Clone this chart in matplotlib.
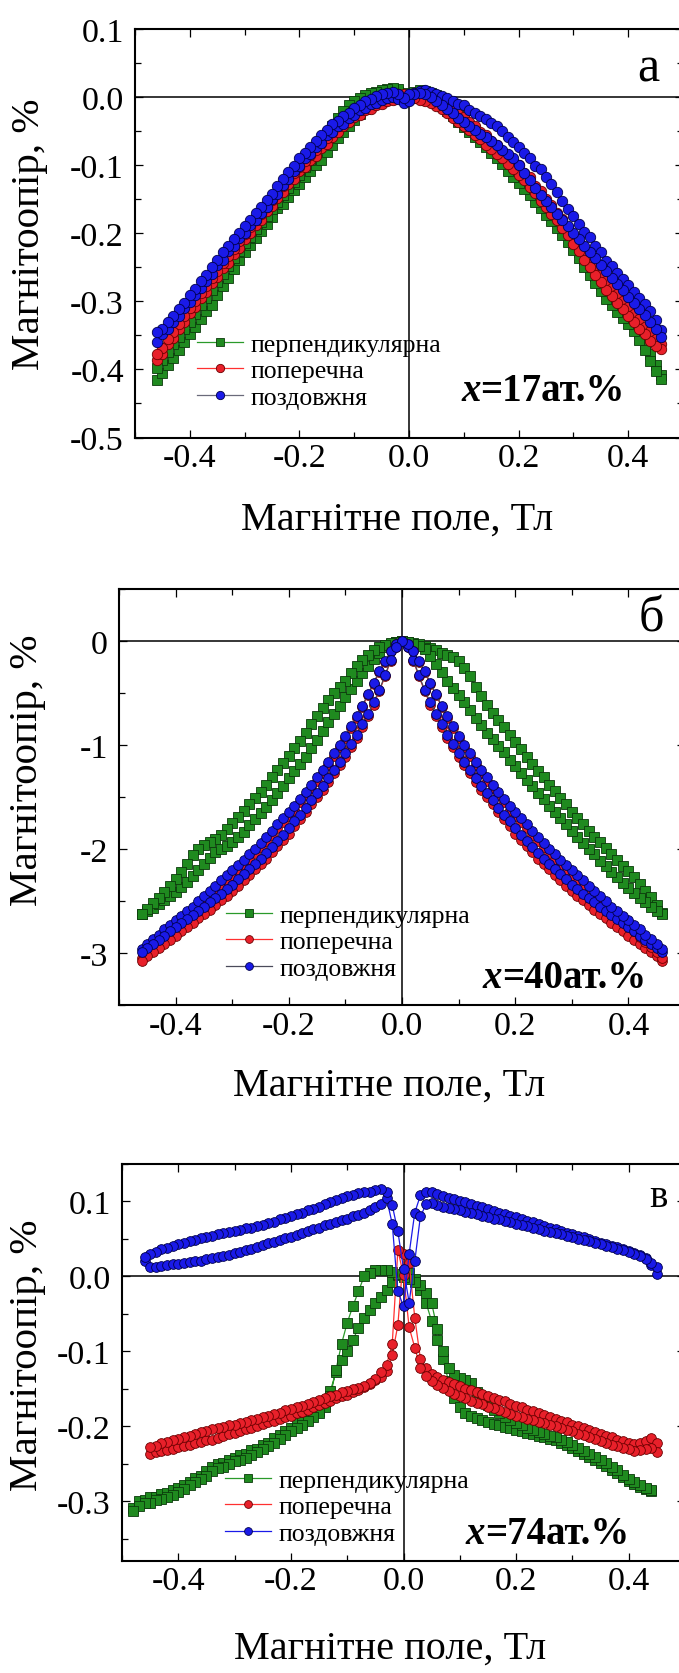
import matplotlib
matplotlib.use("Agg")
import matplotlib.pyplot as plt
from matplotlib.ticker import MultipleLocator, FormatStrFormatter

plt.rcParams['font.family'] = ['Liberation Serif', 'DejaVu Serif']
plt.rcParams['axes.unicode_minus'] = False

# ---------------- field grid (T) ----------------
HG = [-0.48, -0.47, -0.46, -0.45, -0.44, -0.43, -0.42, -0.41, -0.40, -0.39,
      -0.38, -0.37, -0.36, -0.35, -0.34, -0.33, -0.32, -0.31, -0.30, -0.29,
      -0.28, -0.27, -0.26, -0.25, -0.24, -0.23, -0.22, -0.21, -0.20, -0.19,
      -0.18, -0.17, -0.16, -0.15, -0.14, -0.13, -0.12, -0.11, -0.10, -0.09,
      -0.08, -0.07, -0.06, -0.05, -0.04, -0.03, -0.02, -0.01, 0.00, 0.01,
      0.02, 0.03, 0.04, 0.05, 0.06, 0.07, 0.08, 0.09, 0.10, 0.11,
      0.12, 0.13, 0.14, 0.15, 0.16, 0.17, 0.18, 0.19, 0.20, 0.21,
      0.22, 0.23, 0.24, 0.25, 0.26, 0.27, 0.28, 0.29, 0.30, 0.31,
      0.32, 0.33, 0.34, 0.35, 0.36, 0.37, 0.38, 0.39, 0.40, 0.41,
      0.42, 0.43, 0.44, 0.45, 0.46]

FIELD_A = HG[2:95]          # -0.46 .. 0.46
FIELD_B = HG[2:95]          # -0.46 .. 0.46
FIELD_C_GREEN = HG[0:93]    # -0.48 .. 0.44
FIELD_C_RED = HG[3:94]      # -0.45 .. 0.45
FIELD_C_BLUE = HG[2:94]     # -0.46 .. 0.45

LABELS = ['перпендикулярна', 'поперечна', 'поздовжня']
XLABEL = 'Магнітне поле, Тл'
YLABEL = 'Магнітоопір, %'
PANEL_TAGS = ['а', 'б', 'в']
COMPOSITIONS = ['=17ат.%', '=40ат.%', '=74ат.%']

# ---------------- panel a (x = 17 at.%) ----------------
A_GREEN_UP = ([-0.416, -0.405, -0.394, -0.383, -0.371, -0.360, -0.348, -0.337, -0.326, -0.314,
               -0.305, -0.290, -0.277, -0.265, -0.252, -0.240, -0.228, -0.217, -0.207, -0.196,
               -0.186, -0.176, -0.163, -0.157, -0.147, -0.137, -0.127, -0.118, -0.109, -0.100,
               -0.093, -0.080, -0.070, -0.060, -0.051, -0.042, -0.033, -0.025, -0.017, -0.010,
               -0.004, 0.001, 0.006, 0.010, 0.008, 0.004]
              + [0.002]
              + [0.008, 0.010, 0.009, 0.006, 0.003, -0.003, -0.010, -0.018, -0.026, -0.034,
                 -0.042, -0.049, -0.056, -0.064, -0.072, -0.080, -0.089, -0.098, -0.107, -0.116,
                 -0.125, -0.134, -0.144, -0.153, -0.163, -0.172, -0.182, -0.192, -0.203, -0.215,
                 -0.227, -0.239, -0.251, -0.263, -0.275, -0.287, -0.296, -0.305, -0.314, -0.323,
                 -0.334, -0.347, -0.362, -0.378, -0.394, -0.408])
A_GREEN_DN = ([-0.398, -0.386, -0.375, -0.363, -0.352, -0.341, -0.330, -0.318, -0.306, -0.295,
               -0.283, -0.271, -0.260, -0.248, -0.237, -0.226, -0.215, -0.205, -0.194, -0.184,
               -0.174, -0.164, -0.154, -0.144, -0.134, -0.124, -0.114, -0.103, -0.092, -0.080,
               -0.068, -0.056, -0.043, -0.031, -0.020, -0.012, -0.006, -0.001, 0.003, 0.006,
               0.008, 0.010, 0.012, 0.014, 0.012, 0.006]
              + [0.004]
              + [-0.001, 0.000, -0.001, -0.003, -0.007, -0.013, -0.020, -0.028, -0.036, -0.044,
                 -0.052, -0.059, -0.066, -0.074, -0.082, -0.090, -0.099, -0.108, -0.117, -0.126,
                 -0.135, -0.144, -0.154, -0.163, -0.173, -0.182, -0.192, -0.202, -0.213, -0.225,
                 -0.237, -0.249, -0.261, -0.273, -0.285, -0.297, -0.306, -0.315, -0.324, -0.333,
                 -0.344, -0.357, -0.372, -0.388, -0.403, -0.414])
A_RED_UP = ([-0.386, -0.377, -0.363, -0.354, -0.341, -0.331, -0.317, -0.308, -0.295, -0.286,
             -0.273, -0.264, -0.251, -0.243, -0.230, -0.221, -0.208, -0.200, -0.188, -0.180,
             -0.168, -0.160, -0.148, -0.140, -0.128, -0.120, -0.109, -0.103, -0.092, -0.086,
             -0.075, -0.069, -0.058, -0.052, -0.042, -0.037, -0.029, -0.026, -0.019, -0.017,
             -0.012, -0.010, -0.006, -0.004, -0.002, -0.001]
            + [0.000]
            + [0.006, 0.008, 0.005, 0.004, -0.002, -0.005, -0.013, -0.017, -0.025, -0.029,
               -0.037, -0.042, -0.051, -0.056, -0.065, -0.070, -0.079, -0.085, -0.094, -0.100,
               -0.111, -0.118, -0.130, -0.138, -0.150, -0.158, -0.170, -0.179, -0.192, -0.202,
               -0.215, -0.225, -0.238, -0.247, -0.260, -0.270, -0.281, -0.289, -0.300, -0.308,
               -0.319, -0.326, -0.337, -0.344, -0.355, -0.362])
A_RED_DN = ([-0.378, -0.368, -0.356, -0.345, -0.333, -0.322, -0.310, -0.299, -0.288, -0.277,
             -0.266, -0.255, -0.244, -0.234, -0.223, -0.212, -0.201, -0.191, -0.181, -0.171,
             -0.161, -0.151, -0.141, -0.131, -0.121, -0.111, -0.102, -0.094, -0.085, -0.077,
             -0.068, -0.060, -0.051, -0.043, -0.035, -0.028, -0.022, -0.017, -0.012, -0.008,
             -0.005, -0.002, 0.001, 0.003, 0.004, 0.004]
            + [0.002]
            + [-0.002, -0.004, -0.006, -0.009, -0.013, -0.018, -0.024, -0.031, -0.036, -0.043,
               -0.048, -0.056, -0.062, -0.070, -0.076, -0.084, -0.090, -0.099, -0.105, -0.114,
               -0.122, -0.132, -0.141, -0.152, -0.161, -0.172, -0.181, -0.193, -0.203, -0.216,
               -0.226, -0.239, -0.249, -0.261, -0.271, -0.284, -0.292, -0.303, -0.311, -0.322,
               -0.330, -0.340, -0.348, -0.358, -0.366, -0.370])
A_BLUE_UP = ([-0.360, -0.348, -0.341, -0.330, -0.322, -0.310, -0.301, -0.290, -0.281, -0.270,
              -0.260, -0.247, -0.239, -0.226, -0.219, -0.207, -0.199, -0.188, -0.181, -0.170,
              -0.162, -0.150, -0.142, -0.129, -0.121, -0.109, -0.101, -0.090, -0.084, -0.073,
              -0.067, -0.056, -0.051, -0.043, -0.039, -0.031, -0.027, -0.019, -0.016, -0.010,
              -0.008, -0.004, -0.002, 0.000, -0.003, -0.008]
             + [-0.006]
             + [0.006, 0.009, 0.010, 0.008, 0.005, 0.002, -0.002, -0.006, -0.010, -0.012,
                -0.019, -0.023, -0.028, -0.032, -0.038, -0.043, -0.050, -0.058, -0.066, -0.074,
                -0.082, -0.090, -0.101, -0.106, -0.117, -0.128, -0.140, -0.152, -0.164, -0.175,
                -0.187, -0.198, -0.206, -0.218, -0.228, -0.241, -0.248, -0.258, -0.267, -0.276,
                -0.286, -0.295, -0.304, -0.314, -0.328, -0.342])
A_BLUE_DN = ([-0.345, -0.340, -0.330, -0.321, -0.311, -0.302, -0.291, -0.282, -0.270, -0.261,
              -0.249, -0.239, -0.228, -0.218, -0.208, -0.199, -0.189, -0.180, -0.170, -0.162,
              -0.151, -0.142, -0.131, -0.121, -0.110, -0.101, -0.090, -0.082, -0.073, -0.065,
              -0.056, -0.048, -0.040, -0.035, -0.028, -0.023, -0.016, -0.011, -0.006, -0.003,
              0.002, 0.004, 0.006, 0.007, 0.004, -0.002]
             + [0.004]
             + [0.004, 0.006, 0.004, 0.000, -0.006, -0.012, -0.018, -0.024, -0.030, -0.036,
                -0.042, -0.048, -0.054, -0.059, -0.065, -0.071, -0.077, -0.083, -0.090, -0.100,
                -0.111, -0.122, -0.133, -0.144, -0.153, -0.162, -0.172, -0.181, -0.190, -0.200,
                -0.209, -0.219, -0.228, -0.237, -0.246, -0.256, -0.265, -0.274, -0.284, -0.293,
                -0.302, -0.311, -0.320, -0.330, -0.341, -0.352])

# ---------------- panel б (x = 40 at.%) ----------------
B_GREEN_UP = ([-2.62, -2.59, -2.56, -2.53, -2.49, -2.45, -2.41, -2.36, -2.31, -2.26,
               -2.20, -2.14, -2.08, -2.03, -2.00, -1.97, -1.93, -1.88, -1.83, -1.77,
               -1.71, -1.65, -1.59, -1.53, -1.46, -1.39, -1.32, -1.25, -1.18, -1.11,
               -1.03, -0.95, -0.86, -0.78, -0.70, -0.62, -0.54, -0.46, -0.38, -0.31,
               -0.24, -0.17, -0.11, -0.06, -0.03, -0.01]
              + [0.00]
              + [-0.01, -0.02, -0.03, -0.05, -0.07, -0.09, -0.11, -0.13, -0.15, -0.19,
                 -0.26, -0.34, -0.44, -0.53, -0.61, -0.69, -0.76, -0.83, -0.90, -0.97,
                 -1.04, -1.11, -1.18, -1.25, -1.31, -1.38, -1.44, -1.51, -1.57, -1.64,
                 -1.70, -1.76, -1.82, -1.88, -1.93, -1.99, -2.05, -2.10, -2.16, -2.21,
                 -2.27, -2.33, -2.40, -2.46, -2.54, -2.61])
B_GREEN_DN = ([-2.62, -2.57, -2.52, -2.47, -2.41, -2.35, -2.29, -2.22, -2.14, -2.06,
               -2.00, -1.96, -1.93, -1.90, -1.86, -1.81, -1.75, -1.69, -1.63, -1.57,
               -1.51, -1.45, -1.38, -1.31, -1.24, -1.17, -1.10, -1.03, -0.96, -0.88,
               -0.80, -0.72, -0.64, -0.57, -0.50, -0.44, -0.38, -0.31, -0.24, -0.18,
               -0.13, -0.09, -0.06, -0.04, -0.02, -0.01]
              + [0.00]
              + [-0.01, -0.03, -0.05, -0.08, -0.14, -0.22, -0.30, -0.38, -0.45, -0.52,
                 -0.59, -0.66, -0.74, -0.81, -0.88, -0.94, -1.01, -1.07, -1.14, -1.20,
                 -1.27, -1.33, -1.39, -1.46, -1.52, -1.58, -1.64, -1.70, -1.76, -1.82,
                 -1.88, -1.94, -2.00, -2.05, -2.11, -2.16, -2.22, -2.27, -2.32, -2.37,
                 -2.42, -2.47, -2.51, -2.55, -2.59, -2.62])
# red / blue in panel б: values listed against |H| = 0.00 .. 0.46 (branches are mirror-like)
B_RED_INNER = [0.00, -0.06, -0.19, -0.34, -0.48, -0.61, -0.72, -0.83, -0.93, -1.02,
               -1.11, -1.19, -1.27, -1.35, -1.43, -1.50, -1.57, -1.64, -1.71, -1.78,
               -1.85, -1.91, -1.97, -2.03, -2.09, -2.14, -2.19, -2.25, -2.30, -2.35,
               -2.40, -2.45, -2.49, -2.54, -2.58, -2.62, -2.66, -2.71, -2.75, -2.79,
               -2.83, -2.87, -2.91, -2.95, -2.99, -3.03, -3.07]
B_RED_OUTER = [0.00, -0.03, -0.10, -0.20, -0.30, -0.41, -0.52, -0.63, -0.74, -0.84,
               -0.93, -1.02, -1.10, -1.19, -1.27, -1.34, -1.41, -1.48, -1.55, -1.62,
               -1.68, -1.74, -1.80, -1.86, -1.92, -1.98, -2.04, -2.09, -2.15, -2.20,
               -2.25, -2.30, -2.35, -2.40, -2.45, -2.50, -2.55, -2.60, -2.65, -2.70,
               -2.74, -2.79, -2.84, -2.89, -2.94, -2.99, -3.04]
B_BLUE_INNER = [0.00, -0.06, -0.18, -0.33, -0.47, -0.59, -0.70, -0.80, -0.90, -0.99,
                -1.08, -1.16, -1.24, -1.32, -1.39, -1.46, -1.53, -1.60, -1.67, -1.73,
                -1.80, -1.86, -1.92, -1.98, -2.04, -2.09, -2.14, -2.19, -2.24, -2.29,
                -2.34, -2.38, -2.43, -2.47, -2.51, -2.55, -2.59, -2.63, -2.67, -2.71,
                -2.75, -2.79, -2.83, -2.87, -2.91, -2.95, -2.99]
B_BLUE_OUTER = [0.00, -0.03, -0.10, -0.19, -0.29, -0.40, -0.51, -0.62, -0.72, -0.82,
                -0.91, -1.00, -1.08, -1.16, -1.24, -1.31, -1.38, -1.45, -1.52, -1.58,
                -1.64, -1.70, -1.76, -1.82, -1.88, -1.94, -2.00, -2.05, -2.10, -2.15,
                -2.20, -2.25, -2.30, -2.35, -2.40, -2.45, -2.50, -2.55, -2.59, -2.64,
                -2.68, -2.73, -2.77, -2.82, -2.86, -2.91, -2.96]
B_RED_UP = B_RED_OUTER[:0:-1] + B_RED_INNER
B_RED_DN = B_RED_INNER[:0:-1] + B_RED_OUTER
B_BLUE_UP = B_BLUE_OUTER[:0:-1] + B_BLUE_INNER
B_BLUE_DN = B_BLUE_INNER[:0:-1] + B_BLUE_OUTER

# ---------------- panel в (x = 74 at.%) ----------------
C_GREEN_UP = ([-0.309, -0.300, -0.298, -0.295, -0.294, -0.290, -0.289, -0.285, -0.283, -0.278,
               -0.274, -0.269, -0.266, -0.260, -0.255, -0.250, -0.249, -0.245, -0.242, -0.239,
               -0.237, -0.232, -0.230, -0.225, -0.222, -0.216, -0.212, -0.206, -0.202, -0.196,
               -0.194, -0.187, -0.183]
              + [-0.180, -0.170, -0.153, -0.128, -0.112, -0.100, -0.085, -0.069, -0.056, -0.045,
                 -0.036, -0.027, -0.018, -0.008, 0.002, 0.006]
              + [0.004, -0.004, -0.018, -0.035, -0.060, -0.085, -0.110, -0.140, -0.162, -0.175,
                 -0.182, -0.186, -0.189, -0.192, -0.195, -0.197, -0.199, -0.201, -0.203, -0.205,
                 -0.207, -0.209, -0.211, -0.213, -0.215, -0.217, -0.219, -0.222, -0.225, -0.229,
                 -0.233, -0.237, -0.241, -0.245, -0.249, -0.253, -0.258, -0.263, -0.268, -0.273,
                 -0.277, -0.281, -0.284, -0.286])
C_GREEN_DN = ([-0.313, -0.307, -0.303, -0.302, -0.299, -0.297, -0.294, -0.292, -0.288, -0.284,
               -0.279, -0.275, -0.271, -0.266, -0.260, -0.256, -0.254, -0.251, -0.247, -0.245,
               -0.242, -0.238, -0.235, -0.231, -0.227, -0.222, -0.217, -0.212, -0.207, -0.202,
               -0.199, -0.193, -0.188]
              + [-0.182, -0.175, -0.160, -0.125, -0.090, -0.062, -0.040, -0.020, 0.000, 0.005,
                 0.008, 0.009, 0.008, 0.006, 0.003, -0.001]
              + [-0.004, -0.007, -0.012, -0.022, -0.036, -0.070, -0.100, -0.123, -0.132, -0.136,
                 -0.139, -0.142, -0.155, -0.165, -0.172, -0.178, -0.183, -0.188, -0.192, -0.196,
                 -0.199, -0.202, -0.205, -0.208, -0.210, -0.213, -0.215, -0.218, -0.221, -0.225,
                 -0.229, -0.233, -0.237, -0.241, -0.245, -0.249, -0.254, -0.259, -0.265, -0.270,
                 -0.275, -0.279, -0.283, -0.285])
C_RED_UP = ([-0.237, -0.235, -0.233, -0.232, -0.230, -0.228, -0.226, -0.225, -0.223, -0.221,
             -0.219, -0.218, -0.216, -0.213, -0.211, -0.209, -0.206, -0.204, -0.202, -0.200,
             -0.197, -0.195, -0.193, -0.190, -0.188, -0.186, -0.183, -0.181, -0.178, -0.175,
             -0.172, -0.169, -0.166, -0.163, -0.160, -0.158, -0.155, -0.152, -0.148, -0.144,
             -0.139, -0.134]
            + [-0.126, -0.105, -0.065, 0.030, 0.018, -0.055, -0.110]
            + [-0.122, -0.130, -0.134, -0.138, -0.141, -0.144, -0.147, -0.150, -0.152, -0.155,
               -0.157, -0.160, -0.162, -0.165, -0.167, -0.170, -0.173, -0.175, -0.178, -0.180,
               -0.183, -0.185, -0.188, -0.190, -0.193, -0.195, -0.198, -0.200, -0.203, -0.205,
               -0.208, -0.210, -0.213, -0.215, -0.218, -0.220, -0.222, -0.224, -0.222, -0.220,
               -0.216, -0.222])
C_RED_DN = ([-0.228, -0.226, -0.223, -0.221, -0.219, -0.217, -0.215, -0.213, -0.210, -0.208,
             -0.206, -0.204, -0.203, -0.201, -0.199, -0.198, -0.196, -0.194, -0.192, -0.190,
             -0.188, -0.186, -0.184, -0.182, -0.179, -0.177, -0.175, -0.173, -0.170, -0.168,
             -0.165, -0.162, -0.160, -0.158, -0.155, -0.153, -0.151, -0.149, -0.146, -0.143,
             -0.137, -0.128]
            + [-0.118, -0.090, 0.035, 0.002, -0.068, -0.095, -0.122]
            + [-0.133, -0.140, -0.145, -0.149, -0.153, -0.157, -0.160, -0.163, -0.166, -0.169,
               -0.171, -0.174, -0.176, -0.179, -0.181, -0.184, -0.186, -0.188, -0.190, -0.192,
               -0.194, -0.196, -0.198, -0.200, -0.203, -0.205, -0.207, -0.210, -0.212, -0.215,
               -0.217, -0.220, -0.222, -0.225, -0.227, -0.229, -0.231, -0.233, -0.232, -0.230,
               -0.229, -0.235])
C_BLUE_UP = ([0.020, 0.013, 0.013, 0.014, 0.015, 0.016, 0.017, 0.018, 0.019, 0.020,
              0.021, 0.023, 0.024, 0.026, 0.027, 0.029, 0.031, 0.033, 0.035, 0.037,
              0.039, 0.042, 0.044, 0.046, 0.048, 0.051, 0.053, 0.055, 0.058, 0.060,
              0.063, 0.065, 0.068, 0.070, 0.073, 0.075, 0.077, 0.080, 0.082, 0.085,
              0.088, 0.092, 0.097]
             + [0.104, 0.070, -0.020, -0.040, 0.030, 0.085, 0.108]
             + [0.113, 0.112, 0.110, 0.107, 0.105, 0.103, 0.101, 0.099, 0.096, 0.094,
                0.092, 0.090, 0.087, 0.085, 0.083, 0.081, 0.079, 0.076, 0.074, 0.072,
                0.070, 0.067, 0.065, 0.063, 0.061, 0.058, 0.056, 0.054, 0.052, 0.050,
                0.047, 0.045, 0.043, 0.041, 0.039, 0.036, 0.034, 0.031, 0.028, 0.024,
                0.015, 0.003])
C_BLUE_DN = ([0.026, 0.030, 0.033, 0.036, 0.038, 0.041, 0.043, 0.045, 0.047, 0.049,
              0.051, 0.052, 0.054, 0.056, 0.058, 0.059, 0.061, 0.062, 0.064, 0.065,
              0.067, 0.069, 0.071, 0.073, 0.076, 0.078, 0.081, 0.083, 0.085, 0.088,
              0.090, 0.093, 0.096, 0.099, 0.102, 0.105, 0.107, 0.109, 0.111, 0.112,
              0.113, 0.115, 0.116]
             + [0.113, 0.095, 0.060, 0.010, -0.035, 0.020, 0.080]
             + [0.096, 0.098, 0.095, 0.093, 0.091, 0.090, 0.088, 0.086, 0.084, 0.083,
                0.081, 0.079, 0.077, 0.076, 0.074, 0.072, 0.070, 0.068, 0.067, 0.065,
                0.063, 0.061, 0.059, 0.058, 0.056, 0.054, 0.052, 0.050, 0.049, 0.047,
                0.045, 0.043, 0.041, 0.039, 0.037, 0.035, 0.033, 0.030, 0.027, 0.023,
                0.018, 0.012])

# ---------------- styling ----------------
GREEN = dict(marker='s', mfc='#1f8a1f', mec='#0b3a0b', line='#2a9a2a')
RED = dict(marker='o', mfc='#e8202a', mec='#6a0000', line='#ff3030')
BLUE = dict(marker='o', mfc='#1a1ae8', mec='#00004a', line='#1a1ae8')

W, H = 679, 1674
fig = plt.figure(figsize=(W / 100, H / 100), dpi=100)


def add_axes_px(left, top, right, bottom):
    return fig.add_axes([left / W, 1 - bottom / H, (right - left) / W, (bottom - top) / H])


def draw(ax, field, up, dn, st, label, ms, line=None):
    if len(field) != len(up) or len(field) != len(dn):
        raise ValueError('length mismatch %s: %d %d %d' % (label, len(field), len(up), len(dn)))
    x = list(field) + list(field)[::-1]
    y = list(up) + list(dn)[::-1]
    ax.plot(x, y, color=line or st['line'], lw=0.9, marker=st['marker'], ms=ms,
            mfc=st['mfc'], mec=st['mec'], mew=0.6, label=label, zorder=3)


def setup(ax, ylim, ymaj, ymin, yfmt):
    ax.set_xlim(-0.5, 0.5)
    ax.set_ylim(*ylim)
    ax.xaxis.set_major_locator(MultipleLocator(0.2))
    ax.xaxis.set_minor_locator(MultipleLocator(0.1))
    ax.yaxis.set_major_locator(MultipleLocator(ymaj))
    ax.yaxis.set_minor_locator(MultipleLocator(ymin))
    ax.xaxis.set_major_formatter(FormatStrFormatter('%.1f'))
    ax.yaxis.set_major_formatter(FormatStrFormatter(yfmt))
    ax.tick_params(which='both', direction='in', top=True, right=True, width=0.9, color='k')
    ax.tick_params(which='major', length=6, labelsize=24.5)
    ax.tick_params(which='minor', length=4.5)
    ax.tick_params(axis='x', pad=3.5)
    ax.tick_params(axis='y', pad=8)
    for s in ax.spines.values():
        s.set_linewidth(1.5)
    ax.axhline(0, color='k', lw=1.1, zorder=1)
    ax.axvline(0, color='k', lw=1.1, zorder=1)


def decorate(ax, tag, tag_xy, tag_size, comp, comp_xy, leg_xy, ylab_xy, xlab_xy):
    ax.text(tag_xy[0], tag_xy[1], tag, transform=ax.transAxes, fontsize=tag_size,
            ha='center', va='center')
    t = ax.text(comp_xy[0], comp_xy[1], 'x', transform=ax.transAxes, fontsize=28,
                fontweight='bold', fontstyle='italic', ha='left', va='center')
    ax.annotate(comp, xy=(1.0, 0.5), xycoords=t, fontsize=28, fontweight='bold',
                ha='left', va='center')
    ax.legend(loc='upper left', bbox_to_anchor=leg_xy, frameon=False, fontsize=18.5,
              numpoints=1, markerscale=0.8, handlelength=1.8, handletextpad=0.3,
              labelspacing=0.14, borderpad=0, borderaxespad=0)
    ax.set_ylabel(YLABEL, fontsize=29.5, va='center', ha='center')
    ax.yaxis.set_label_coords(*ylab_xy)
    ax.set_xlabel(XLABEL, fontsize=29, va='center', ha='center')
    ax.xaxis.set_label_coords(*xlab_xy)


# panel a
axa = add_axes_px(135, 30, 683, 438.5)
setup(axa, (-0.5, 0.1), 0.1, 0.05, '%.1f')
draw(axa, FIELD_A, A_GREEN_UP, A_GREEN_DN, GREEN, LABELS[0], 7.5)
draw(axa, FIELD_A, A_RED_UP, A_RED_DN, RED, LABELS[1], 7.5)
draw(axa, FIELD_A, A_BLUE_UP, A_BLUE_DN, BLUE, LABELS[2], 7.5, line='#6a6a7a')
decorate(axa, PANEL_TAGS[0], (0.936, 0.903), 36, COMPOSITIONS[0], (0.595, 0.115),
         (0.113, 0.257), (-0.192, 0.5), (0.479, -0.1995))

# panel б
axb = add_axes_px(119, 590, 685, 1006.4)
setup(axb, (-3.5, 0.5), 1, 0.5, '%g')
draw(axb, FIELD_B, B_GREEN_UP, B_GREEN_DN, GREEN, LABELS[0], 7)
draw(axb, FIELD_B, B_RED_UP, B_RED_DN, RED, LABELS[1], 7)
draw(axb, FIELD_B, B_BLUE_UP, B_BLUE_DN, BLUE, LABELS[2], 7, line='#4a4a5a')
decorate(axb, PANEL_TAGS[1], (0.941, 0.929), 36, COMPOSITIONS[1], (0.643, 0.066),
         (0.189, 0.244), (-0.161, 0.568), (0.478, -0.191))

# panel в
axc = add_axes_px(122, 1165, 685, 1562)
setup(axc, (-0.38, 0.15), 0.1, 0.05, '%.1f')
draw(axc, FIELD_C_GREEN, C_GREEN_UP, C_GREEN_DN, GREEN, LABELS[0], 7)
draw(axc, FIELD_C_RED, C_RED_UP, C_RED_DN, RED, LABELS[1], 7)
draw(axc, FIELD_C_BLUE, C_BLUE_UP, C_BLUE_DN, BLUE, LABELS[2], 7)
decorate(axc, PANEL_TAGS[2], (0.952, 0.919), 28, COMPOSITIONS[2], (0.61, 0.0705),
         (0.183, 0.232), (-0.167, 0.52), (0.476, -0.219))

fig.savefig('out.png', dpi=100)
